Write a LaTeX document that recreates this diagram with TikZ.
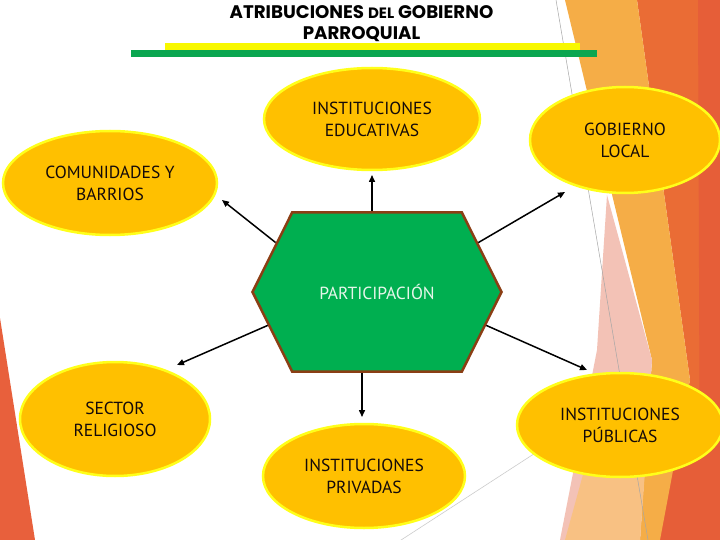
\documentclass[tikz,border=0pt]{standalone}
\usepackage{fontspec}
\setmainfont{PT Sans}
\newfontfamily\titlefont{Poppins}
\usetikzlibrary{shapes.geometric,shapes.symbols,arrows.meta}
\definecolor{ellfill}{HTML}{FFC000}
\definecolor{ellline}{HTML}{FFFF1A}
\definecolor{txtdark}{HTML}{140A0A}
\definecolor{hexgreen}{HTML}{00AF50}
\definecolor{hexbrown}{HTML}{8B3E14}
\definecolor{hextext}{HTML}{E6F6EA}
\definecolor{barYellow}{HTML}{F8F800}
\definecolor{barGreen}{HTML}{0AA650}
\definecolor{cRed}{HTML}{EA6C35}
\definecolor{cRed2}{HTML}{E65E38}
\definecolor{cOrange}{HTML}{F5AD47}
\definecolor{cPink}{HTML}{F3C2B6}
\definecolor{cPeach}{HTML}{F8C183}
\definecolor{cLeft}{HTML}{E8603C}
\begin{document}
\begin{tikzpicture}[x=1pt,y=-1pt,
  bubble/.style={ellipse, fill=ellfill, draw=ellline, line width=2.5pt, inner sep=0pt,
    font=\fontsize{17.5}{22}\selectfont, text=txtdark, align=center},
  conn/.style={-{Triangle[length=7pt,width=6pt]}, line width=1.5pt, black},
  titletext/.style={font=\titlefont\bfseries\fontsize{18.2}{20}\selectfont, anchor=base, inner sep=0pt}
]
\useasboundingbox (0,0) rectangle (720,540);
\fill[white] (0,0) rectangle (720,540);
% background decoration
\fill[cRed] (637,0) -- (720,0) -- (720,540) -- (655,540) -- (690,380) -- cycle;
\fill[cRed2] (698,0) -- (720,0) -- (720,540) -- (700,540) -- cycle;
\fill[cRed2] (650,540) -- (720,330) -- (720,540) -- cycle;
\fill[cOrange] (565,0) -- (637,0) -- (690,380) -- (660,540) -- (640,540) -- (652,360) -- cycle;
\fill[cPink] (607,195) -- (652,360) -- (640,540) -- (560,540) -- (597,350) -- cycle;
\fill[cPeach] (598,420) -- (648,430) -- (640,540) -- (565,540) -- cycle;
\draw[gray!70, line width=0.5pt] (556,0) -- (648,540);
\draw[gray!40, line width=0.6pt] (398,542) -- (560,437);
\fill[cLeft] (0,318) -- (35,540) -- (0,540) -- cycle;
% title and bars
\node[titletext] (t1) at (361.5,18.5) {ATRIBUCIONES {\fontsize{15}{17}\selectfont DEL} GOBIERNO};
\node[titletext] (t2) at (361.5,39.5) {PARROQUIAL};
\fill[barYellow] (165,43) rectangle (580,50);
\fill[barGreen] (131,50) rectangle (597,57);
% bubbles
\node[bubble, minimum width=216pt, minimum height=102pt] (edu) at (372,119) {INSTITUCIONES\\EDUCATIVAS};
\node[bubble, minimum width=190pt, minimum height=106pt] (gob) at (625,140) {GOBIERNO\\LOCAL};
\node[bubble, minimum width=214pt, minimum height=104pt] (com) at (110,183) {COMUNIDADES Y\\BARRIOS};
\node[bubble, minimum width=190pt, minimum height=114pt] (sec) at (115,419) {SECTOR\\RELIGIOSO};
\node[bubble, minimum width=202pt, minimum height=104pt] (priv) at (364,476) {INSTITUCIONES\\PRIVADAS};
\node[bubble, minimum width=206pt, minimum height=104pt] (pub) at (620,425) {INSTITUCIONES\\PÚBLICAS};
% centre hexagon
\node[signal, signal to=east and west, signal pointer angle=127,
  minimum width=249pt, minimum height=159pt, inner sep=0pt,
  fill=hexgreen, draw=hexbrown, line width=2.5pt, text=hextext,
  font=\fontsize{17.5}{22}\selectfont] (part) at (377,292) {PARTICIPACIÓN};
% arrow tips
\coordinate (tipEdu) at (372,175);
\coordinate (tipCom) at (222,200);
\coordinate (tipGob) at (565,192);
\coordinate (tipSec) at (177,365);
\coordinate (tipPub) at (587,370);
\coordinate (tipPriv) at (362,417);
\draw[conn] (part.north -| tipEdu) -- (tipEdu);
\draw[conn] (part.154) -- (tipCom);
\draw[conn] (part.26) -- (tipGob);
\draw[conn] (part.197) -- (tipSec);
\draw[conn] (part.343) -- (tipPub);
\draw[conn] (part.south -| tipPriv) -- (tipPriv);
\end{tikzpicture}
\end{document}
